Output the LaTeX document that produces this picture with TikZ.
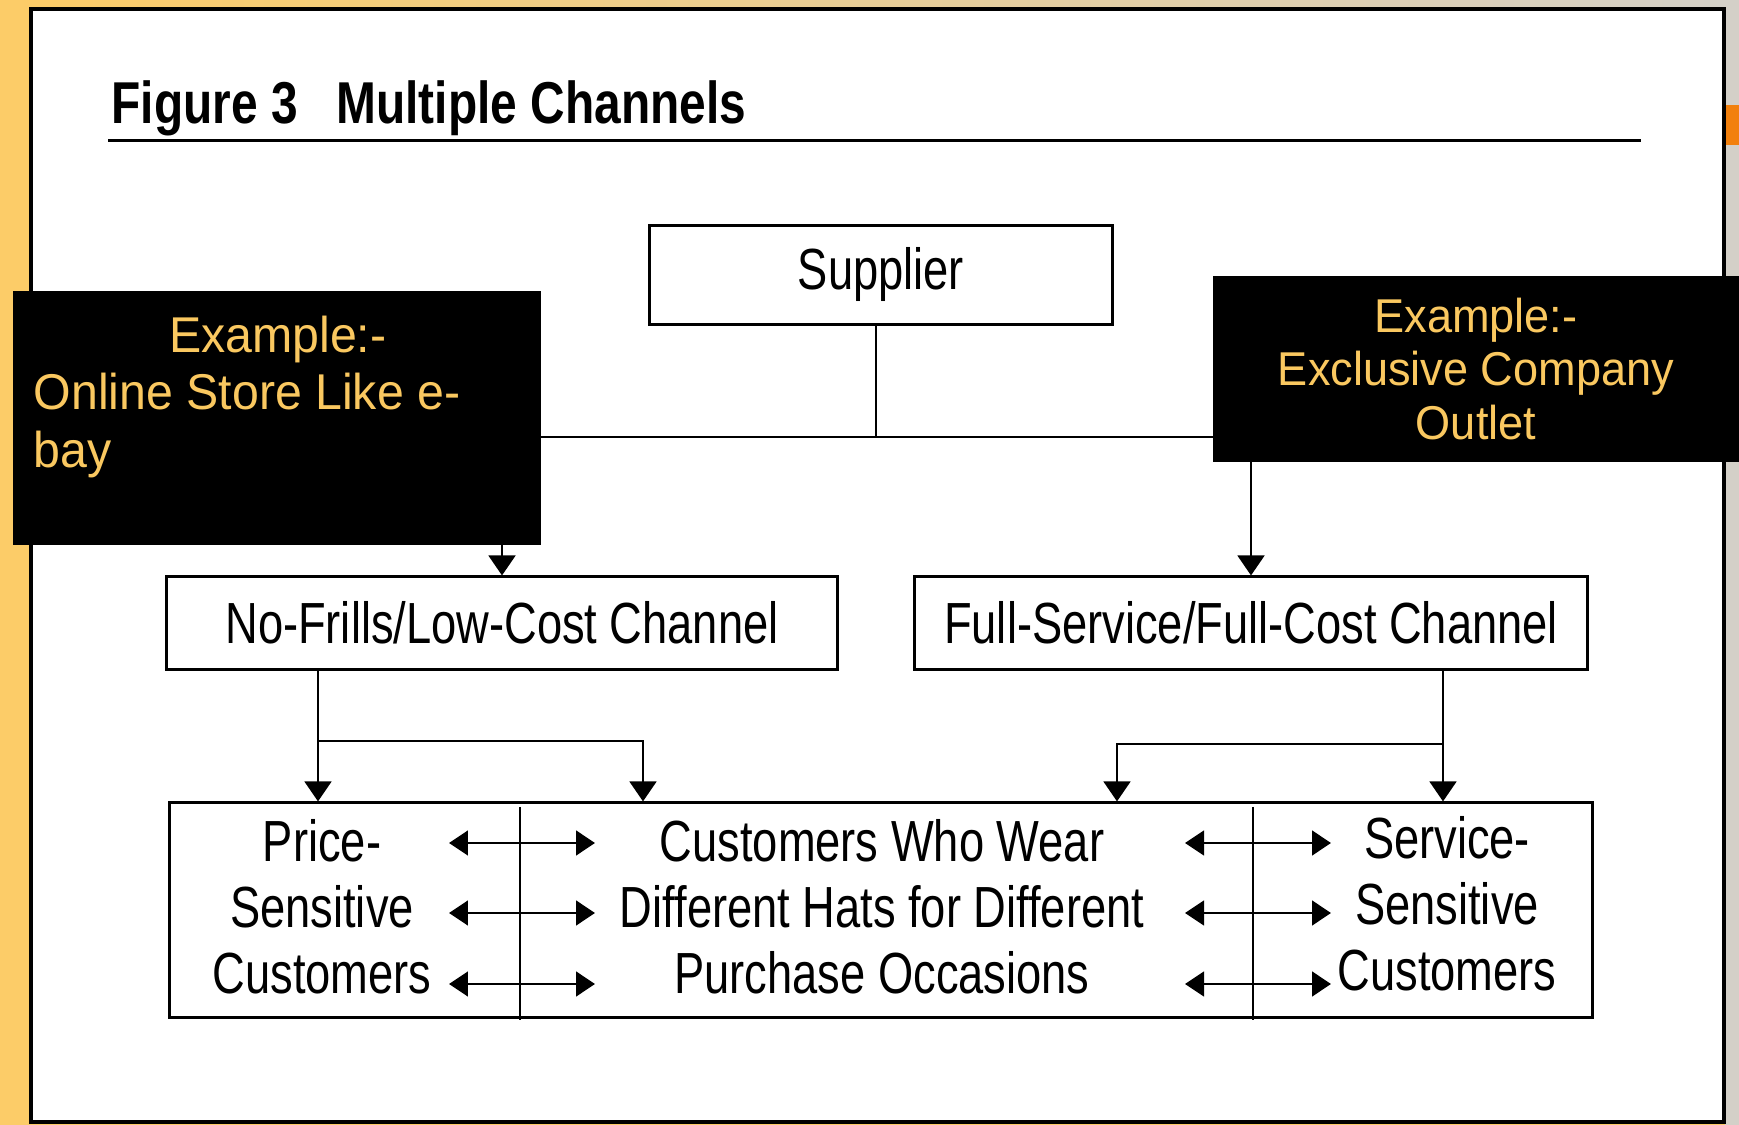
\documentclass[tikz,border=0pt]{standalone}
\usepackage{fontspec}
\setmainfont{Liberation Sans}
\newfontfamily\narrowfont[FakeStretch=0.78]{Liberation Sans}
\newfontfamily\titlefont[FakeStretch=0.81]{Liberation Sans}
\newfontfamily\goldfont[FakeStretch=0.95]{Liberation Sans}
\newfontfamily\bigfont[FakeStretch=0.96]{Liberation Sans}
\usetikzlibrary{arrows.meta}
\definecolor{slidegold}{RGB}{252,204,104}
\definecolor{slidegrey}{RGB}{212,208,200}
\definecolor{examplegold}{RGB}{250,200,96}
\tikzstyle{box} = [rectangle, draw, line width=0.85pt, inner sep=0pt, text centered, font={\narrowfont\fontsize{16.5}{18.8}\selectfont}]
\tikzstyle{example} = [rectangle, fill=black, inner sep=0pt]
\tikzstyle{goldtext} = [text=examplegold, inner sep=0pt, font={\goldfont\fontsize{13.5}{15.2}\selectfont}]
\tikzstyle{segment} = [align=center, inner sep=0pt, font={\narrowfont\fontsize{16.5}{18.8}\selectfont}]
\tikzstyle{arrow} = [line width=0.8pt, -{Triangle[length=5.7pt,width=7.6pt]}]
\tikzstyle{darrow} = [line width=0.8pt, {Triangle[length=5.4pt,width=7pt]}-{Triangle[length=5.4pt,width=7pt]}]
\tikzstyle{link} = [line width=0.8pt]
\tikzstyle{divider} = [line width=0.7pt]
\begin{document}
\begin{tikzpicture}[x=0.01cm, y=-0.01cm]
            \useasboundingbox (0,0) rectangle (1739,1125);
            % slide background
            \fill [slidegold] (0,0) rectangle (1739,1125);
            \fill [slidegrey] (1725,0) rectangle (1739,1125);
            \shade [left color=slidegold, right color=slidegrey] (31,0) rectangle (1725,9);
            \fill [orange!80!brown] (1725,105) rectangle (1739,145);
            \draw [line width=0.9pt, fill=white] (31,9) rectangle (1724,1122);

            % title
            \node [anchor=base west, inner sep=0pt, font={\titlefont\bfseries\fontsize{16.8}{20}\selectfont}] at (111,124) (title) {Figure 3\hspace{11pt}Multiple Channels};
            \draw [line width=0.85pt] (108,141) -- (1641,141);

            \node [box, minimum width=4.62cm, minimum height=0.99cm] at (881,275) (supplier) {Supplier};
            \node [box, minimum width=6.70cm, minimum height=0.92cm] at (502,623) (nofrills) {No-Frills/Low-Cost Channel};
            \node [box, minimum width=6.73cm, minimum height=0.92cm] at (1251,623) (fullservice) {Full-Service/Full-Cost Channel};
            \node [box, minimum width=14.215cm, minimum height=2.14cm] at (881,910) (segments) {};

            \node [segment] at (322,907) (price) {Price-\\Sensitive\\Customers};
            \node [segment] at (882,907) (hats) {Customers Who Wear\\Different Hats for Different\\Purchase Occasions};
            \node [segment] at (1447,904) (service) {Service-\\Sensitive\\Customers};

            \coordinate (hub) at (876,437);
            \draw [link] (supplier.south -| hub) -- (hub);
            \draw [arrow] (hub) -| (nofrills);
            \draw [arrow] (hub) -| (fullservice);

            % example boxes lie over the connectors
            \node [example, minimum width=5.28cm, minimum height=2.53cm] at (277,418) (online) {};
            \node [goldtext, anchor=north west, text width=4.88cm, align=left, font={\bigfont\fontsize{14.3}{16.4}\selectfont}] at (33,315) (onlinetext) {\spaceskip=0pt\xspaceskip=0pt\makebox[\linewidth]{Example:-}\\Online Store Like e-\\bay};
            \node [example, goldtext, align=center, minimum width=5.25cm, minimum height=1.865cm] at (1476,369) (outlet) {Example:-\\Exclusive Company\\Outlet};

            \coordinate (lsplit) at (318,741);
            \coordinate (lbranch) at (643,741);
            \coordinate (rsplit) at (1443,744);
            \coordinate (rbranch) at (1117,744);
            \draw [arrow] (lsplit |- nofrills.south) -- (lsplit |- segments.north);
            \draw [arrow] (lsplit) -- (lbranch) -- (lbranch |- segments.north);
            \draw [arrow] (rsplit |- fullservice.south) -- (rsplit |- segments.north);
            \draw [arrow] (rsplit) -- (rbranch) -- (rbranch |- segments.north);

            \coordinate (ldiv) at (520,807);
            \coordinate (rdiv) at (1253,807);
            \draw [divider] (ldiv) -- ++(0,213);
            \draw [divider] (rdiv) -- ++(0,213);
            \foreach \y [count=\i] in {843,913,984} {
                \coordinate (la\i) at (449,\y);
                \coordinate (lb\i) at (595,\y);
                \coordinate (ra\i) at (1185,\y);
                \coordinate (rb\i) at (1331,\y);
                \draw [darrow] (la\i) -- (lb\i);
                \draw [darrow] (ra\i) -- (rb\i);
            }
\end{tikzpicture}
\end{document}
